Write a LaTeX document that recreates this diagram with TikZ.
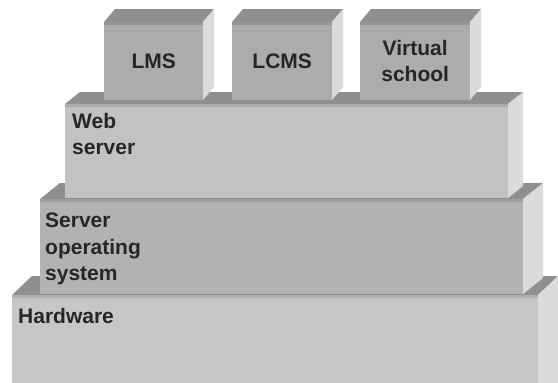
\documentclass[tikz,border=0pt]{standalone}
\usepackage{fontspec}
\setmainfont{Liberation Sans}
\usetikzlibrary{positioning}
\definecolor{topgray}{HTML}{8F8F8F}
\definecolor{sidegray}{HTML}{DBDBDB}
\definecolor{hwgray}{HTML}{C7C7C7}
\definecolor{osgray}{HTML}{B2B2B2}
\definecolor{webgray}{HTML}{C2C2C2}
\definecolor{appgray}{HTML}{ACACAC}

\begin{document}
\begin{tikzpicture}[x=1pt, y=-1pt,
    front/.style={rectangle, draw=none, inner sep=0pt, anchor=north west},
    layertext/.style={font=\fontsize{21}{26.5}\selectfont\bfseries, text=black!85, align=left, anchor=north west, inner sep=0pt},
    apptext/.style={font=\fontsize{21}{26.5}\selectfont\bfseries, text=black!85, align=center, inner sep=0pt}]
\useasboundingbox[fill=white] (0,0) rectangle (558,383);
\clip (0,0) rectangle (558,383);

\foreach \n/\xa/\ya/\xb/\yb/\dx/\dy/\col in {hw/12/295/538/402/20/19/hwgray,
        os/40/199/523/294/20/16/osgray, web/65/104/508/198/15/12/webgray,
        lms/104/22/203/100/11/13/appgray, lcms/232/22/332/100/11/13/appgray,
        vs/360/22/470/100/11/13/appgray} {
    \fill[topgray] (\xa,\ya) -- ++(\dx,-\dy) -- (\xb+\dx,\ya-\dy) -- (\xb,\ya) -- cycle;
    \fill[sidegray] (\xb,\ya) -- (\xb+\dx,\ya-\dy) -- (\xb+\dx,\yb-\dy) -- (\xb,\yb) -- cycle;
    \node[front, fill=\col, minimum width=\xb-\xa, minimum height=\yb-\ya] (\n) at (\xa,\ya) {};
    \fill[\col!88!black] (\n.north west) rectangle ([yshift=-2.5pt]\n.north east);
}

\node[layertext] (hwtext) at ([xshift=6pt, yshift=-13pt]hw.north west) {Hardware};
\node[layertext] (ostext) at ([xshift=5pt, yshift=-14pt]os.north west) {Server\\operating\\system};
\node[layertext] (webtext) at ([xshift=7pt, yshift=-9pt]web.north west) {Web\\server};
\node[apptext] (lmstext) at (lms) {LMS};
\node[apptext] (lcmstext) at (lcms) {LCMS};
\node[apptext] (vstext) at (vs) {Virtual\\school};
\end{tikzpicture}
\end{document}
